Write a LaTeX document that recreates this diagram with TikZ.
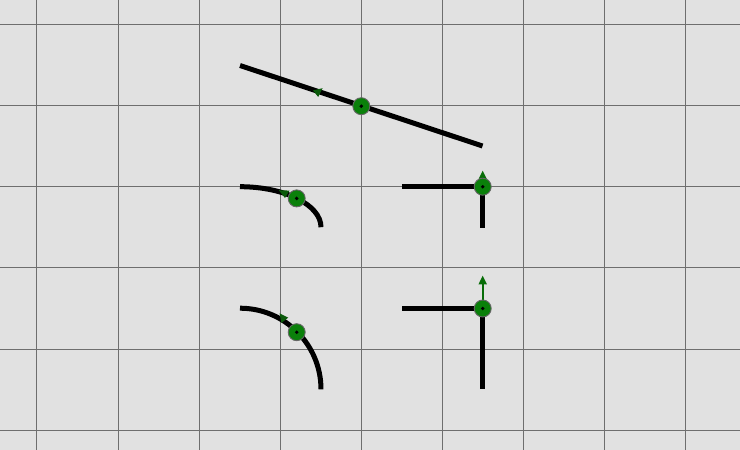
\documentclass[tikz,border=0pt]{standalone}
\usetikzlibrary{arrows.meta}
\definecolor{bg}{HTML}{E1E1E1}
\definecolor{gridc}{HTML}{6E6E6E}
\definecolor{mk}{HTML}{0A800A}
\definecolor{mkdark}{HTML}{0B5A0B}
\tikzset{
  gridline/.style={draw=gridc, line width=0.8bp},
  wire/.style={draw=black, line width=5bp},
  marker/.style={circle, draw=black!60, line width=0.9bp, fill=mk, minimum size=17bp, inner sep=0pt},
  hub/.style={fill=black},
  vec/.style={draw=mk!85!black, line width=2bp, -{Triangle[length=9bp,width=8bp]}},
  tick/.style={fill=mkdark}
}
\begin{document}
\begin{tikzpicture}[x=1bp,y=-1bp]
\useasboundingbox (0,0) rectangle (740,450);
\fill[bg] (0,0) rectangle (740,450);
% grid
\foreach \i in {0,...,8} {
  \draw[gridline] ({36.8+81.1*\i},0) -- ({36.8+81.1*\i},450);
}
\foreach \j in {0,...,5} {
  \draw[gridline] (0,{24.5+81.1*\j}) -- (740,{24.5+81.1*\j});
}
% coordinates
\coordinate (a1) at (240,65.5);
\coordinate (a2) at (482.5,146);
\coordinate (b1) at (240,186.7);
\coordinate (b2) at (321,227.2);
\coordinate (c1) at (402,186.7);
\coordinate (cc) at (482.7,186.7);
\coordinate (c2) at (482.7,227.7);
\coordinate (d1) at (240,308.2);
\coordinate (d2) at (321,389.3);
\coordinate (e1) at (402,308.5);
\coordinate (ec) at (482.7,308.5);
\coordinate (e2) at (482.7,389.3);
\coordinate (t4) at (482.7,170.5);
\coordinate (t5) at (482.7,275.5);
% wires
\draw[wire] (a1) -- (a2);
\draw[wire] (b1) arc[start angle=-90, end angle=0, x radius=81, y radius=40.5];
\draw[wire] (c1) -- (cc) -- (c2);
\draw[wire] (d1) arc[start angle=-90, end angle=0, x radius=81, y radius=81.1];
\draw[wire] (e1) -- (ec) -- (e2);
% small arrowheads
\fill[tick] (313.0,90.4) -- (322.6,88.2) -- (318.2,97.0) -- cycle;
\fill[tick] (278.8,190.2) -- (289.5,190.6) -- (285,198.0) -- cycle;
\fill[tick] (279.6,313.4) -- (288.2,317.6) -- (281.4,323.0) -- cycle;
% vectors
\draw[vec] (cc) -- (t4);
\draw[vec] (ec) -- (t5);
% markers
\node[marker] (m1) at (361.3,106.2) {};
\node[marker] (m2) at (296.7,198.4) {};
\node[marker] (m3) at (482.7,186.7) {};
\node[marker] (m4) at (296.7,332.2) {};
\node[marker] (m5) at (482.7,308.5) {};
\foreach \m in {m1,m2,m3,m4,m5} {
  \fill[hub] (\m.center) circle (1.9bp);
}
\end{tikzpicture}
\end{document}
